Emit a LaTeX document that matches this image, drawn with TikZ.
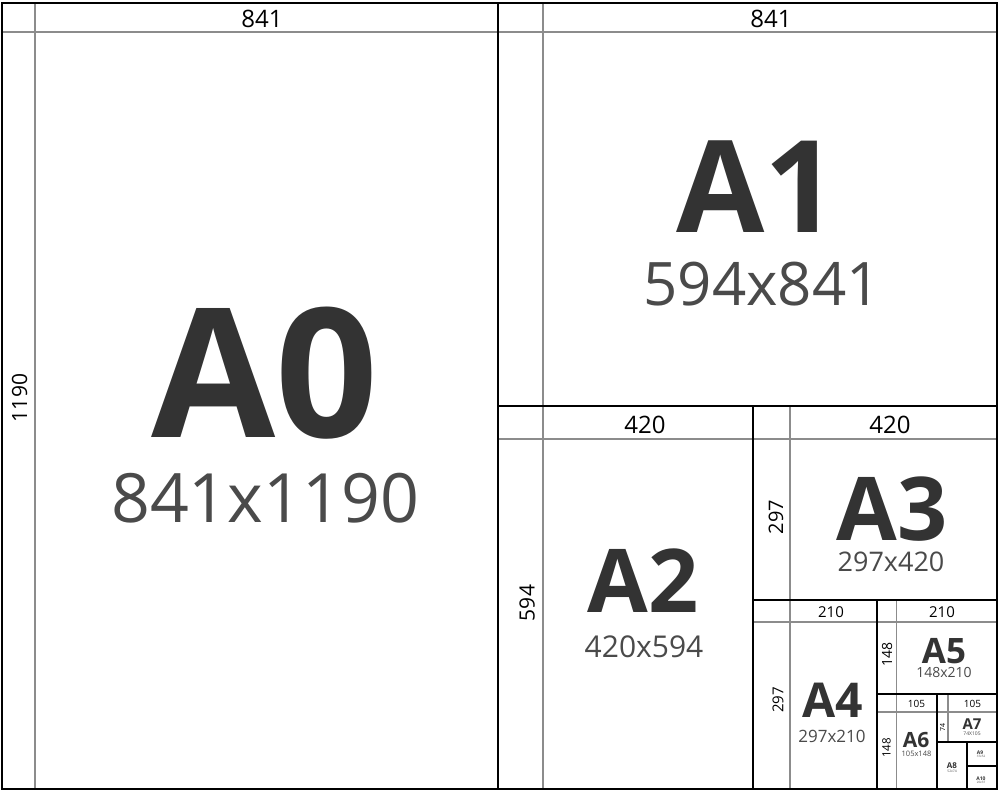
\documentclass[tikz,border=0pt]{standalone}
\usepackage{fontspec}
\setmainfont{Open Sans}
\newlength{\du}
\setlength{\du}{1pt}
\definecolor{guidegray}{rgb}{0.550000, 0.550000, 0.550000}
\definecolor{namegray}{rgb}{0.200000, 0.200000, 0.200000}
\definecolor{sizegray}{rgb}{0.290000, 0.290000, 0.290000}
\newcommand{\fsz}[1]{\fontsize{#1}{#1}\selectfont}
\tikzset{
  sheetline/.style={draw=black, line width=2\du, line cap=rect},
  guideline/.style={draw=guidegray, line width=1.2\du},
  dimtext/.style={inner sep=0pt, text=black},
  nametext/.style={inner sep=0pt, anchor=base, text=namegray, font=\bfseries},
  sizetext/.style={inner sep=0pt, anchor=base, text=sizegray},
}

\begin{document}
\begin{tikzpicture}
\pgftransformxscale{1.000000}
\pgftransformyscale{-1.000000}
\useasboundingbox (0\du,0\du) rectangle (1000\du,792\du);
\fill[white] (0\du,0\du) rectangle (1000\du,792\du);
% guides
\draw[guideline] (2\du,32\du)--(997\du,32\du);
\draw[guideline] (35\du,3\du)--(35\du,789\du);
\draw[guideline] (543\du,3\du)--(543\du,789\du);
\draw[guideline] (498\du,439\du)--(997\du,439\du);
\draw[guideline] (790\du,406\du)--(790\du,789\du);
\draw[guideline] (753\du,622\du)--(997\du,622\du);
\draw[guideline] (896.500000\du,600\du)--(896.500000\du,789\du);
\draw[guideline] (877\du,712\du)--(997\du,712\du);
\draw[guideline] (948\du,694\du)--(948\du,742\du);
% sheets
\draw[sheetline, line width=2.500000\du] (2\du,3\du) rectangle (997\du,789\du);
\draw[sheetline] (498\du,3\du)--(498\du,789\du);
\draw[sheetline] (498\du,406\du)--(997\du,406\du);
\draw[sheetline] (753\du,406\du)--(753\du,789\du);
\draw[sheetline] (753\du,600\du)--(997\du,600\du);
\draw[sheetline] (877\du,600\du)--(877\du,789\du);
\draw[sheetline] (877\du,694\du)--(997\du,694\du);
\draw[sheetline] (937\du,694\du)--(937\du,789\du);
\draw[sheetline] (937\du,742\du)--(997\du,742\du);
\draw[sheetline] (967\du,742\du)--(967\du,789\du);
\draw[sheetline] (967\du,766\du)--(997\du,766\du);
% A0
\node[dimtext] (a0w) at (262\du,18.700000\du){\fsz{24}841};
\node[dimtext, rotate=90] (a0h) at (19.500000\du,398\du){\fsz{21}1190};
\node[nametext] (a0name) at (265\du,437\du){\fsz{180}A0};
\node[sizetext] (a0size) at (265\du,522\du){\fsz{68}841x1190};
% A1
\node[dimtext] (a1w) at (771\du,18.700000\du){\fsz{24}841};
\node[nametext] (a1name) at (757\du,232\du){\fsz{128}A1};
\node[sizetext] (a1size) at (762\du,305\du){\fsz{60}594x841};
% A2
\node[dimtext] (a2w) at (645\du,425\du){\fsz{24}420};
\node[dimtext, rotate=90] (a2h) at (527\du,603\du){\fsz{21}594};
\node[nametext] (a2name) at (643\du,612\du){\fsz{88}A2};
\node[sizetext] (a2size) at (644\du,657\du){\fsz{30}420x594};
% A3
\node[dimtext] (a3w) at (890\du,425\du){\fsz{24}420};
\node[dimtext, rotate=90] (a3h) at (776\du,517\du){\fsz{20}297};
\node[nametext] (a3name) at (892\du,540\du){\fsz{88}A3};
\node[sizetext] (a3size) at (891\du,571\du){\fsz{27}297x420};
% A4
\node[dimtext] (a4w) at (831\du,612\du){\fsz{15}210};
\node[dimtext, rotate=90] (a4h) at (778\du,700\du){\fsz{15}297};
\node[nametext] (a4name) at (833\du,717\du){\fsz{48}A4};
\node[sizetext] (a4size) at (832\du,742\du){\fsz{17}297x210};
% A5
\node[dimtext] (a5w) at (942\du,612\du){\fsz{15}210};
\node[dimtext, rotate=90] (a5h) at (887\du,654\du){\fsz{14}148};
\node[nametext] (a5name) at (944\du,663\du){\fsz{35}A5};
\node[sizetext] (a5size) at (944\du,677\du){\fsz{14}148x210};
% A6
\node[dimtext] (a6w) at (916.500000\du,703.500000\du){\fsz{10}105};
\node[dimtext, rotate=90] (a6h) at (886.500000\du,748\du){\fsz{11.5}148};
\node[nametext] (a6name) at (916\du,747\du){\fsz{21}A6};
\node[sizetext] (a6size) at (916.500000\du,756\du){\fsz{7.5}105x148};
% A7
\node[dimtext] (a7w) at (972.500000\du,703.500000\du){\fsz{10}105};
\node[dimtext, rotate=90] (a7h) at (942.500000\du,727\du){\fsz{7}74};
\node[nametext] (a7name) at (972\du,729\du){\fsz{15}A7};
\node[sizetext] (a7size) at (972\du,735\du){\fsz{5}74X105};
% A8 .. A10
\node[nametext] (a8name) at (952\du,768\du){\fsz{8}A8};
\node[sizetext] (a8size) at (952\du,772.500000\du){\fsz{3.3}52x74};
\node[nametext] (a9name) at (980\du,754\du){\fsz{5}A9};
\node[sizetext] (a9size) at (981\du,757.500000\du){\fsz{3}37x52};
\node[nametext] (a10name) at (981\du,780\du){\fsz{5}A10};
\node[sizetext] (a10size) at (981\du,783.500000\du){\fsz{3}26x37};
\end{tikzpicture}
\end{document}
